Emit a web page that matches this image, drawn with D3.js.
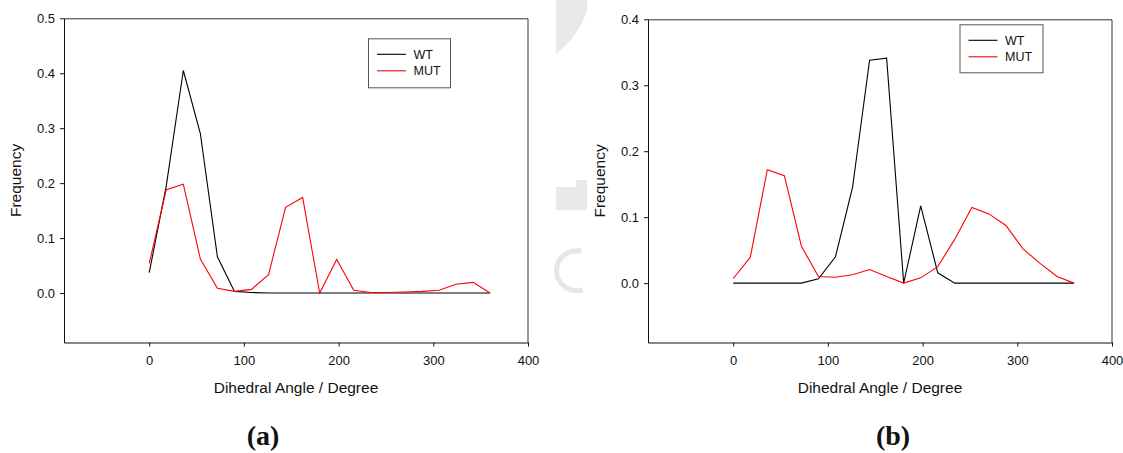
<!DOCTYPE html>
<html>
<head>
<meta charset="utf-8">
<script src="https://cdn.jsdelivr.net/npm/d3@7"></script>
<style>
  body { margin: 0; background: #fff; }
  svg text { font-family: "Liberation Sans", Arial, sans-serif; fill: #111; }
</style>
</head>
<body>
<div id="chart"></div>
<script>
// dihedral angle distributions, WT vs MUT, two panels

const angles = [0, 18, 36, 54, 72, 90, 108, 126, 144, 162, 180, 198, 216, 234, 252, 270, 288, 306, 324, 342, 360];

// panel (a)
const wtA  = [0.037, 0.195, 0.405, 0.29, 0.066, 0.003, 0.001, 0, 0, 0, 0, 0, 0, 0, 0, 0, 0, 0, 0, 0, 0];
const mutA = [0.054, 0.188, 0.198, 0.062, 0.0085, 0.003, 0.0067, 0.0335, 0.156, 0.174, 0, 0.061, 0.005, 0.001, 0.001, 0.002, 0.003, 0.005, 0.016, 0.0195, 0];

// panel (b)
const wtB  = [0, 0, 0, 0, 0, 0.0066, 0.040, 0.145, 0.338, 0.341, 0, 0.117, 0.0157, 0, 0, 0, 0, 0, 0, 0, 0];
const mutB = [0.007, 0.039, 0.172, 0.163, 0.056, 0.010, 0.009, 0.0126, 0.0207, 0.010, 0, 0.008, 0.025, 0.0667, 0.1148, 0.105, 0.0875, 0.052, 0.030, 0.010, 0];

const xTicks = [0, 100, 200, 300, 400];
const yTicksA = [0, 0.1, 0.2, 0.3, 0.4, 0.5];
const yTicksB = [0, 0.1, 0.2, 0.3, 0.4];
const seriesNames = ["WT", "MUT"];
const seriesColors = ["#000", "#ff0000"];

const width = 1123, height = 453;

const svg = d3.select("#chart").append("svg")
    .attr("width", width)
    .attr("height", height);

// faint watermark fragments between the panels
const wm = svg.append("g").attr("fill", "#e9e9e9").attr("stroke", "none");
wm.append("path").attr("d", "M556,0 L587,0 L587,10 Q579,36 556,54 Z");
wm.append("rect").attr("x", 556).attr("y", 187).attr("width", 31).attr("height", 23);
wm.append("rect").attr("x", 576).attr("y", 180).attr("width", 11).attr("height", 8);
wm.append("path")
    .attr("fill", "none")
    .attr("stroke", "#e6e6e6")
    .attr("stroke-width", 5)
    .attr("d", "M581,251 A21,20 0 1,0 583,290");

const panels = [
  {left: 64,  right: 528,  top: 18.3, bottom: 342.5, yMax: 0.5, yTicks: yTicksA, wt: wtA, mut: mutA,
   legend: {x: 368, y: 38.3, w: 82, h: 49}, label: "(a)", labelX: 263, titleX: 16},
  {left: 648, right: 1112, top: 19.3, bottom: 342.5, yMax: 0.4, yTicks: yTicksB, wt: wtB, mut: mutB,
   legend: {x: 959.5, y: 24.3, w: 83, h: 48}, label: "(b)", labelX: 893, titleX: 600}
];

panels.forEach(p => drawPanel(p));

function drawPanel(p) {
  const x = d3.scaleLinear().domain([-90, 400]).range([p.left, p.right]);
  const y = d3.scaleLinear().domain([-0.09, p.yMax]).range([p.bottom, p.top]);
  const g = svg.append("g");

  // frame top / right
  g.append("path")
      .attr("fill", "none")
      .attr("stroke", "#333")
      .attr("stroke-width", 1)
      .attr("d", `M${p.left},${p.top + 0.5}H${p.right}V${p.bottom}`);

  const xAxis = g.append("g")
      .attr("transform", `translate(0,${p.bottom})`)
      .call(d3.axisBottom(x).tickValues(xTicks).tickSize(4).tickSizeOuter(0).tickPadding(9));
  const yAxis = g.append("g")
      .attr("transform", `translate(${p.left},0)`)
      .call(d3.axisLeft(y).tickValues(p.yTicks).tickFormat(d3.format(".1f"))
            .tickSize(4).tickSizeOuter(0).tickPadding(5));
  [xAxis, yAxis].forEach(a => {
    a.selectAll("text").style("font-size", "13px").attr("fill", "#111");
    a.selectAll("line, path").attr("stroke", "#111");
  });

  // axis titles
  g.append("text")
      .attr("x", (p.left + p.right) / 2)
      .attr("y", 393)
      .attr("text-anchor", "middle")
      .style("font-size", "15.5px")
      .text("Dihedral Angle / Degree");
  g.append("text")
      .attr("transform", `translate(${p.titleX + 5},${(p.top + p.bottom) / 2}) rotate(-90)`)
      .attr("text-anchor", "middle")
      .style("font-size", "15.5px")
      .text("Frequency");

  // data lines
  const line = d3.line().x((d, i) => x(angles[i])).y(d => y(d));
  [p.wt, p.mut].forEach((s, k) => {
    g.append("path")
        .datum(s)
        .attr("fill", "none")
        .attr("stroke", seriesColors[k])
        .attr("stroke-width", 1.1)
        .attr("stroke-linejoin", "miter")
        .attr("d", line);
  });

  // legend
  const lg = g.append("g").attr("transform", `translate(${p.legend.x},${p.legend.y})`);
  lg.append("rect")
      .attr("x", 0.5).attr("y", 0.5)
      .attr("width", p.legend.w).attr("height", p.legend.h)
      .attr("fill", "#fff")
      .attr("stroke", "#555");
  seriesNames.forEach((n, k) => {
    const yy = 16 + k * 16.5;
    lg.append("line")
        .attr("x1", 9).attr("x2", 38)
        .attr("y1", yy).attr("y2", yy)
        .attr("stroke", seriesColors[k])
        .attr("stroke-width", 1.1);
    lg.append("text")
        .attr("x", 45.5).attr("y", yy)
        .attr("dy", "0.36em")
        .style("font-size", "12.5px")
        .text(n);
  });

  // panel label
  g.append("text")
      .attr("x", p.labelX)
      .attr("y", 445)
      .attr("text-anchor", "middle")
      .style("font-family", "'Liberation Serif', 'Times New Roman', serif")
      .style("font-weight", "bold")
      .style("font-size", "28px")
      .attr("fill", "#000")
      .text(p.label);
}
</script>
</body>
</html>
